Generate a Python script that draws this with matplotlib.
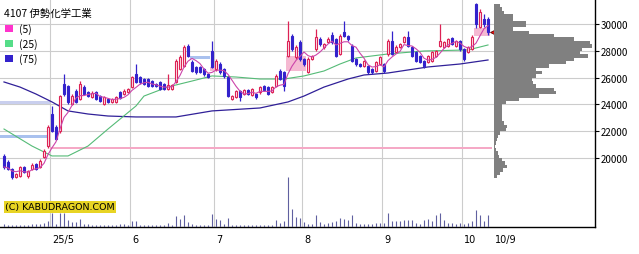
import matplotlib.pyplot as plt
import pandas as pd
from matplotlib.patches import Rectangle

plt.rcParams['font.family'] = ['Noto Sans CJK JP', 'DejaVu Sans']

# daily candles, 2025-04-14 .. 2025-10-09
opens = [20160, 19710, 19190, 18590, 18670, 19340, 18670, 19190, 19560, 19340,
         20080, 20900, 23290, 22320, 22020, 25530, 25380, 24040, 25010, 24410,
         25310, 24930, 24560, 24930, 24630, 24040, 24410, 24190, 24190, 24930,
         24780, 24930, 25310, 26280, 26050, 25900, 25900, 25750, 25530, 25680,
         25530, 25160, 25160, 25680, 26650, 26870, 28360, 27170, 26800, 26800,
         26650, 26280, 27990, 26650, 27020, 26650, 26050, 24410, 24560, 25010,
         24780, 25080, 24710, 24780, 24930, 25380, 25310, 24930, 25380, 26500,
         26420, 27620, 29110, 27540, 28660, 27390, 26420, 27390, 28140, 28890,
         28290, 28660, 29180, 28890, 27770, 29410, 29110, 28360, 27390, 27020,
         26870, 26870, 26650, 26500, 27020, 27020, 27770, 28740, 27920, 28290,
         28660, 29040, 28290, 27920, 27620, 27250, 27170, 27250, 27620, 28360,
         28290, 28360, 28960, 28360, 28740, 28140, 27920, 28140, 31500, 29780,
         30380, 30380]
highs = [20310, 19860, 19260, 18890, 19410, 19410, 19110, 19640, 19640, 19930,
         20680, 22470, 23890, 22470, 24710, 26280, 25450, 24780, 25160, 25750,
         25450, 25010, 25010, 25010, 24710, 24630, 24490, 24490, 24630, 25010,
         25160, 25230, 26130, 27020, 26130, 25980, 25980, 25830, 25600, 25750,
         25600, 26280, 25530, 27390, 27690, 28440, 28510, 27320, 26870, 26870,
         26720, 26350, 28740, 27390, 27170, 26720, 26130, 24710, 25080, 25080,
         25160, 25160, 25230, 24860, 25380, 25450, 25380, 25380, 26280, 26650,
         26500, 30230, 29260, 28440, 28810, 27470, 27540, 27690, 29630, 29040,
         28590, 29040, 29410, 28960, 29260, 30230, 29180, 28510, 27470, 27100,
         27320, 26950, 26720, 27250, 27620, 27100, 28890, 29480, 28440, 28590,
         29110, 29480, 28360, 27990, 27690, 27320, 27690, 27990, 28070, 30010,
         28740, 28960, 29040, 28810, 28810, 28220, 28360, 29180, 31570, 31120,
         30750, 30530]
lows = [19190, 19110, 18440, 18520, 18590, 18890, 18520, 19110, 19110, 19260,
        20010, 20760, 21950, 21350, 21870, 24630, 24040, 23960, 24110, 24340,
        24710, 24560, 24490, 24340, 24190, 23960, 24110, 24110, 24110, 24410,
        24710, 24860, 25230, 25600, 25530, 25450, 25310, 25310, 25310, 25080,
        25080, 25080, 25080, 25600, 26570, 26800, 27540, 26420, 26280, 26350,
        26130, 25980, 26720, 26500, 26280, 25980, 24560, 24340, 24490, 24260,
        24710, 24710, 24630, 24410, 24780, 25010, 24710, 24860, 25310, 25830,
        25010, 27540, 27990, 27390, 27250, 26870, 26350, 27320, 27990, 28360,
        28140, 28590, 28510, 27540, 27690, 29040, 28740, 27170, 26870, 26800,
        26800, 26280, 26280, 26420, 26950, 26350, 27620, 27690, 27840, 28220,
        28590, 28290, 27540, 27170, 27100, 26720, 27100, 27170, 27540, 28290,
        28220, 28290, 28440, 28290, 27990, 27250, 27840, 28070, 29710, 29710,
        29780, 29180]
closes = [19340, 19190, 18590, 18820, 19340, 18960, 19040, 19490, 19190, 19790,
          20530, 22320, 22020, 21430, 24630, 24780, 24190, 24630, 24190, 25530,
          24780, 24630, 24860, 24410, 24260, 24560, 24190, 24410, 24560, 24490,
          25010, 25160, 26050, 25680, 25680, 25530, 25380, 25380, 25380, 25160,
          25160, 25450, 25450, 27250, 27540, 28290, 27620, 26500, 26420, 26420,
          26280, 26050, 26800, 27250, 26420, 26130, 24630, 24630, 25010, 24560,
          25080, 24780, 25160, 24560, 25310, 25080, 24780, 25310, 26130, 25900,
          25380, 28740, 28140, 28290, 27390, 27020, 27390, 27620, 29040, 28510,
          28510, 28890, 28660, 27620, 29110, 29110, 28890, 27250, 27020, 26870,
          27250, 26420, 26420, 27170, 27540, 26500, 28740, 27770, 28290, 28510,
          29040, 28360, 27620, 27250, 27170, 26870, 27620, 27920, 27990, 28740,
          28660, 28890, 28510, 28740, 28140, 27390, 28290, 29040, 30010, 30900,
          30010, 29410]
volumes = [3.3, 2.3, 2.3, 1.7, 2.3, 1.7, 2, 3.3, 3.3, 3.3,
           4, 5.7, 14.3, 3.3, 14.3, 14.3, 6.7, 5, 5, 8.3,
           3.3, 3.3, 1.7, 1.7, 1.7, 1.7, 1.7, 1.7, 2.3, 3.3,
           3.3, 2.3, 6, 6, 2.3, 1.7, 1.7, 1.7, 2, 2,
           2.3, 4.3, 2.3, 11, 8.3, 11.7, 5, 2.7, 2.3, 2,
           2, 2.3, 13.3, 8.3, 7.3, 3.3, 9, 2, 2, 1.7,
           2, 2, 2.3, 1.7, 2, 2, 2.3, 2, 7.3, 4.3,
           6, 50, 18.3, 10, 9.3, 5, 3.3, 3, 12, 5,
           3.3, 4, 5, 5.7, 9, 8.3, 6.7, 11.7, 4, 3.3,
           3.3, 3.3, 2.7, 4, 4.3, 4.3, 14.3, 5.7, 5.7, 5.7,
           6.7, 7.3, 7.3, 4, 3.3, 6.7, 7.7, 5.7, 11.7, 14.3,
           6.7, 4, 4.3, 3.3, 4, 3.3, 4, 6, 16.7, 11.7,
           5.7, 11.7]

ma25_idx = [0, 7, 12, 16, 21, 26, 33, 35, 41, 47, 52, 58, 64, 70, 75, 80, 84, 88, 96, 105, 116, 119, 121]
ma25_val = [22170, 20900, 20160, 20160, 20900, 22170, 23890, 24630, 25310, 25750, 26130, 26050,
            25900, 25900, 26130, 26500, 27020, 27470, 27770, 27990, 28070, 28290, 28440]
ma75_idx = [0, 4, 8, 12, 16, 21, 26, 33, 43, 52, 64, 71, 75, 80, 86, 90, 96, 106, 114, 121]
ma75_val = [25680, 25300, 24780, 24190, 23520, 23290, 23140, 23070, 23070, 23520, 23740,
            24190, 24630, 25300, 25900, 26200, 26350, 26800, 27020, 27320]

month_starts = [12, 32, 53, 75, 95, 115]
month_labels = ['25/5', '6', '7', '8', '9', '10']
last_label = '10/9'

# price gaps (windows): start idx, end idx, low, high, colour
gaps = [
    (-1, 11.5, 21500, 21720, '#a9c1ee'),
    (-1, 11.5, 24050, 24230, '#c9cfee'),
    (11.5, 122, 20680, 20830, '#f5a9c6'),
    (46.5, 51.6, 27400, 27620, '#a9c1ee'),
    (51.6, 53.5, 26500, 26800, '#f5b9d2'),
    (70.6, 75.6, 26500, 27620, '#f5b9d2'),
    (117.5, 121.4, 29110, 29710, '#f5b9d2'),
]

profile_low = list(range(31250, 18250, -250))
profile_vol = [6, 8, 10, 19, 19, 32, 32, 19, 35, 60,
               80, 96, 98, 88, 86, 94, 80, 72, 55, 42,
               48, 42, 38, 39, 42, 60, 62, 45, 25, 12,
               8, 8, 8, 8, 8, 10, 13, 12, 6, 4,
               3, 2, 1, 2, 4, 5, 8, 11, 13, 9,
               6, 3]

up_col = '#dd2255'
down_col = '#3322cc'
grid_col = '#cccccc'

W, H = 639, 255
fig = plt.figure(figsize=(W / 100, H / 100), dpi=100)
fig.patch.set_facecolor('white')

ax = fig.add_axes([0, 27 / H, 595 / W, 228 / H])
ax.set_xlim(-1, 147.75)
ax.set_ylim(14860, 31870)

# volume (twin axis made first, so the price ticks can be moved right afterwards)
vax = ax.twinx()
vax.set_ylim(0, 228)
xs = list(range(len(closes)))
vax.vlines(xs, 0, volumes, colors='#6060a0', lw=0.8)
vax.set_yticks([])
for s in vax.spines.values():
    s.set_visible(False)

for p in [20000, 22000, 24000, 26000, 28000, 30000]:
    ax.axhline(p, color=grid_col, lw=0.8, zorder=0)
for m in month_starts:
    ax.axvline(m - 0.5, color=grid_col, lw=0.8, zorder=0)

for x0, x1, lo, hi, col in gaps:
    ax.add_patch(Rectangle((x0, lo), x1 - x0, hi - lo, facecolor=col, edgecolor='none', zorder=1))

ma5 = pd.Series(closes).rolling(5, min_periods=1).mean()
ax.plot(ma75_idx, ma75_val, color='#302098', lw=0.9, zorder=2)
ax.plot(ma25_idx, ma25_val, color='#55bb77', lw=0.8, zorder=2)
ax.plot(xs, ma5, color='#cc44aa', lw=0.8, zorder=4)

colors = [up_col if c >= o else down_col for o, c in zip(opens, closes)]
faces = ['#fde6ee' if c >= o else down_col for o, c in zip(opens, closes)]
bottoms = [min(o, c) for o, c in zip(opens, closes)]
bodies = [max(abs(c - o), 40) for o, c in zip(opens, closes)]
ax.vlines(xs, lows, highs, colors=colors, lw=0.9, zorder=3)
ax.bar(xs, bodies, bottom=bottoms, width=0.72, color=faces, edgecolor=colors, lw=0.8, zorder=3)

ax.plot([122.3], [closes[-1]], marker='<', color='#ee1111', markeredgecolor='#660000',
        markersize=5, markeredgewidth=0.6, zorder=6, clip_on=False)

ax.yaxis.tick_right()
ax.yaxis.set_label_position('right')
ax.set_yticks([20000, 22000, 24000, 26000, 28000, 30000])
ax.tick_params(axis='y', which='both', left=False, labelleft=False, right=True, labelright=True,
               length=3, width=0.8, labelsize=7, pad=1)
ax.set_xticks([])
for s in ['top', 'left']:
    ax.spines[s].set_visible(False)
ax.spines['right'].set_linewidth(1)
ax.spines['bottom'].set_linewidth(1)

for m, lab in zip(month_starts, month_labels):
    ax.text(m, -0.03, lab, transform=ax.get_xaxis_transform(), ha='left', va='top',
            fontsize=7, family='DejaVu Sans')
ax.text(122.8, -0.03, last_label, transform=ax.get_xaxis_transform(), ha='left', va='top',
        fontsize=7, family='DejaVu Sans')

# volume by price
pax = fig.add_axes([494 / W, 27 / H, 101 / W, 228 / H])
pax.set_xlim(0, 101)
pax.set_ylim(14860, 31870)
pax.barh(profile_low, profile_vol, height=250, align='edge', color='#808080', lw=0)
pax.axis('off')

# legend and title
fig.text(4 / W, 1 - 14 / H, '4107 伊勢化学工業', fontsize=7.5, va='center', ha='left')
for y, col, lab in [(29.5, '#ff33cc', '(5)'), (44.5, '#55dd88', '(25)'), (59.5, '#3322cc', '(75)')]:
    fig.add_artist(Rectangle((5 / W, 1 - (y + 3.5) / H), 8 / W, 7 / H, facecolor=col,
                             edgecolor='none', transform=fig.transFigure))
    fig.text(19 / W, 1 - y / H, lab, fontsize=7.5, va='center', ha='left')

fig.text(5 / W, 1 - 208 / H, '(C) KABUDRAGON.COM', fontsize=6.8, va='center', ha='left',
         family='DejaVu Sans',
         bbox=dict(boxstyle='square,pad=0.15', facecolor='#e8d424', edgecolor='none'))

fig.savefig('out.png', dpi=100)
